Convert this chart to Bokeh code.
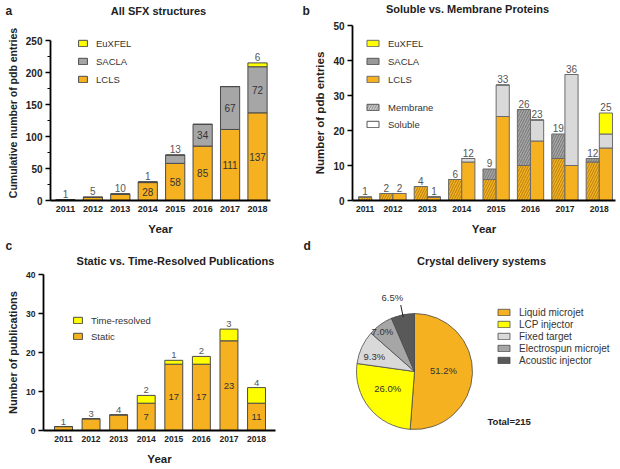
import numpy as np
from bokeh.plotting import figure
from bokeh.models import ColumnDataSource, FixedTicker, Legend, LegendItem, Label, Range1d
from bokeh.layouts import column, row
from bokeh.embed import file_html
from bokeh.resources import INLINE
from bokeh.core.properties import value

# ---------------- data ----------------
YEARS = [2011, 2012, 2013, 2014, 2015, 2016, 2017, 2018]

# (a) cumulative pdb entries
A_LCLS = [1, 5, 10, 28, 58, 85, 111, 137]
A_SACLA = [0, 0, 0, 1, 13, 34, 67, 72]
A_EUXFEL = [0, 0, 0, 0, 0, 0, 0, 6]

# (b) soluble vs membrane proteins
B_MEM_LCLS = [1, 2, 4, 6, 6, 10, 12, 11]
B_MEM_SACLA = [0, 0, 0, 0, 3, 16, 7, 1]
B_SOL_LCLS = [0, 2, 1, 11, 24, 17, 10, 15]
B_SOL_SACLA = [0, 0, 0, 1, 9, 6, 26, 4]
B_SOL_EUXFEL = [0, 0, 0, 0, 0, 0, 0, 6]

# (c) static vs time-resolved publications
C_STATIC = [1, 3, 4, 7, 17, 17, 23, 7]
C_TIMERES = [0, 0, 0, 2, 1, 2, 3, 4]
C_STATIC_LABELS = ["1", "3", "4", "7", "17", "17", "23", "11"]

# (d) crystal delivery systems
D_SYSTEMS = ["Liquid microjet", "LCP injector", "Fixed target",
             "Electrospun microjet", "Acoustic injector"]
D_PCT = [51.2, 26.0, 9.3, 7.0, 6.5]
D_TOTAL = 215

# ---------------- style ----------------
FONT = "Liberation Sans"
ORANGE = "#F5B120"
YELLOW = "#FFFF00"
GRAY = "#A6A6A6"
LIGHT = "#D9D9D9"
DARK = "#595959"
EDGE = "#4a4a4a"
TXT = "#222222"

W = 620
TOP_H, ROW1_H, MID_H, ROW2_H = 18, 220, 30, 200


def base_fig(width, height, xr, yr, left, right, top, bottom):
    p = figure(width=width, height=height, x_range=xr, y_range=yr,
               output_backend="svg", toolbar_location=None,
               min_border_left=left, min_border_right=right,
               min_border_top=top, min_border_bottom=bottom)
    p.outline_line_color = None
    p.xgrid.visible = False
    p.ygrid.visible = False
    return p


def style_axes(p, xticks, xlabels, yticks, yminor, ylabel, xfs, yfs, ylfs):
    xa = p.xaxis[0]
    ya = p.yaxis[0]
    xa.ticker = FixedTicker(ticks=xticks)
    if xlabels is not None:
        xa.major_label_overrides = {t: l for t, l in zip(xticks, xlabels)}
    xa.axis_line_width = 1.8
    xa.axis_line_color = "black"
    xa.major_tick_line_color = None
    xa.minor_tick_line_color = None
    xa.major_tick_out = 0
    xa.major_tick_in = 0
    xa.minor_tick_out = 0
    xa.minor_tick_in = 0
    xa.major_label_standoff = 5
    xa.major_label_text_font = FONT
    xa.major_label_text_font_style = "bold"
    xa.major_label_text_font_size = xfs
    xa.major_label_text_color = TXT
    xa.axis_label = "Year"
    xa.axis_label_text_font = FONT
    xa.axis_label_text_font_style = "bold"
    xa.axis_label_text_font_size = "11.5px"
    xa.axis_label_text_color = TXT
    xa.axis_label_standoff = 8

    ya.ticker = FixedTicker(ticks=yticks, minor_ticks=yminor)
    ya.axis_line_width = 1.8
    ya.axis_line_color = "black"
    ya.major_tick_out = 5
    ya.major_tick_in = 0
    ya.major_tick_line_width = 1.5
    ya.minor_tick_out = 3
    ya.minor_tick_in = 0
    ya.minor_tick_line_width = 1.2
    ya.major_label_standoff = 3
    ya.major_label_text_font = FONT
    ya.major_label_text_font_style = "bold"
    ya.major_label_text_font_size = yfs
    ya.major_label_text_color = TXT
    ya.axis_label = ylabel
    ya.axis_label_text_font = FONT
    ya.axis_label_text_font_style = "bold"
    ya.axis_label_text_font_size = ylfs
    ya.axis_label_text_color = TXT
    ya.axis_label_standoff = 4


def add_legend(p, items, vx, vy, gw, gh, spacing, size="9.5px"):
    lg = Legend(items=items, location=(vx, vy), orientation="vertical",
                border_line_color=None, background_fill_alpha=0,
                padding=0, margin=0, spacing=spacing,
                glyph_width=gw, glyph_height=gh, label_standoff=8,
                label_text_font=FONT, label_text_font_size=size,
                label_text_color="#333333", label_height=10)
    p.add_layout(lg)


def value_texts(p, xs, ys, texts, baseline, color, size="9.5px"):
    if not xs:
        return
    src = ColumnDataSource(dict(x=xs, y=ys, t=texts))
    p.text(x="x", y="y", text="t", source=src, text_font=value(FONT),
           text_font_size=size, text_align="center", text_baseline=baseline,
           text_color=color, y_offset=-2 if baseline == "bottom" else 0)


def header(height, entries):
    """entries: (text, x, y_from_top, size, align)"""
    h = figure(width=W, height=height, x_range=Range1d(0, W), y_range=Range1d(0, height),
               output_backend="svg", toolbar_location=None,
               x_axis_location=None, y_axis_location=None, min_border=0)
    h.outline_line_color = None
    h.xgrid.visible = False
    h.ygrid.visible = False
    for text, x, yt, size, align in entries:
        h.text(x=[x], y=[height - yt], text=[text], text_font=value(FONT),
               text_font_size=size, text_font_style="bold", text_align=align,
               text_baseline="middle", text_color=TXT)
    return h


# ---------------- headers ----------------
head_top = header(TOP_H, [
    ("a", 5, 10, "12px", "left"),
    ("All SFX structures", 158, 10, "11px", "center"),
    ("b", 302, 10, "12px", "left"),
    ("Soluble vs. Membrane Proteins", 467, 8, "11px", "center"),
])
head_mid = header(MID_H, [
    ("c", 5, 7, "12px", "left"),
    ("Static vs. Time-Resolved Publications", 175, 22, "11px", "center"),
    ("d", 303, 7, "12px", "left"),
    ("Crystal delivery systems", 481, 22, "11px", "center"),
])

# shared borders per row (frames are aligned within a row)
R1_TOP, R1_BOT = 7, 38      # frame: abs y 25 .. 200
R2_TOP, R2_BOT = 6, 38      # frame: abs y 274 .. 430

# ================= (a) =================
A_YMAX = 250 * 175 / 160
pa = base_fig(300, ROW1_H, Range1d(2010.455, 2018.473), Range1d(0, A_YMAX), 50, 30, R1_TOP, R1_BOT)
src_a = ColumnDataSource(dict(x=YEARS, lcls=A_LCLS, sacla=A_SACLA, eu=A_EUXFEL))
ra = pa.vbar_stack(["lcls", "sacla", "eu"], x="x", width=0.7, source=src_a,
                   fill_color=[ORANGE, GRAY, YELLOW], line_color=EDGE, line_width=1)
style_axes(pa, YEARS, None, list(range(0, 251, 50)), list(range(25, 250, 50)),
           "Cumulative number of pdb entries", "9px", "10px", "10.5px")
pa.yaxis[0].bounds = (0, 250)
ins_x, ins_y, ins_t, ab_x, ab_y, ab_t = [], [], [], [], [], []
for i, yr in enumerate(YEARS):
    base = 0
    for ser in (A_LCLS, A_SACLA, A_EUXFEL):
        v = ser[i]
        if v >= 20:
            ins_x.append(yr); ins_y.append(base + v / 2); ins_t.append(str(v))
        elif v > 0:
            ab_x.append(yr); ab_y.append(base + v); ab_t.append(str(v))
        base += v
value_texts(pa, ins_x, ins_y, ins_t, "middle", "#333333", "10px")
value_texts(pa, ab_x, ab_y, ab_t, "bottom", "#555555", "10px")
add_legend(pa, [LegendItem(label="EuXFEL", renderers=[ra[2]]),
                LegendItem(label="SACLA", renderers=[ra[1]]),
                LegendItem(label="LCLS", renderers=[ra[0]])], 27, 115.5, 11, 8, 7)

# ================= (b) =================
B_GAP = 0.615
mem_tot = [a + b for a, b in zip(B_MEM_LCLS, B_MEM_SACLA)]
sol_tot = [a + b + c for a, b, c in zip(B_SOL_LCLS, B_SOL_SACLA, B_SOL_EUXFEL)]
pos = 0.0
mem_x, sol_x, centers, sol_idx = [], [], [], []
for i in range(len(YEARS)):
    if i:
        pos += B_GAP
    mem_x.append(pos + 0.5)
    if sol_tot[i] > 0:
        sol_x.append(pos + 1.5)
        sol_idx.append(i)
        centers.append(round(pos + 1.0, 4))
        pos += 2
    else:
        centers.append(round(pos + 0.5, 4))
        pos += 1

pb = base_fig(320, ROW1_H, Range1d(-0.46, pos + 0.23), Range1d(0, 50), 52, 5, R1_TOP, R1_BOT)
HATCH = dict(hatch_pattern="/", hatch_alpha=0.6, hatch_scale=5, hatch_weight=0.7)
src_bm = ColumnDataSource(dict(x=mem_x, lcls=B_MEM_LCLS, sacla=B_MEM_SACLA))
rbm = pb.vbar_stack(["lcls", "sacla"], x="x", width=1.0, source=src_bm,
                    fill_color=[ORANGE, GRAY], line_color="#6a6a6a", line_width=1,
                    hatch_color=["#5a3c00", "#333333"], **HATCH)
src_bs = ColumnDataSource(dict(x=sol_x,
                               lcls=[B_SOL_LCLS[i] for i in sol_idx],
                               sacla=[B_SOL_SACLA[i] for i in sol_idx],
                               eu=[B_SOL_EUXFEL[i] for i in sol_idx]))
rbs = pb.vbar_stack(["lcls", "sacla", "eu"], x="x", width=1.0, source=src_bs,
                    fill_color=[ORANGE, LIGHT, YELLOW], line_color="#6a6a6a", line_width=1)
style_axes(pb, centers, [str(y) for y in YEARS], list(range(0, 51, 10)), [],
           "Number of pdb entries", "8.5px", "10px", "11.5px")
lx = [mem_x[i] for i in range(len(YEARS)) if mem_tot[i] > 0] + sol_x
ly = [t for t in mem_tot if t > 0] + [sol_tot[i] for i in sol_idx]
value_texts(pb, lx, ly, [str(v) for v in ly], "bottom", "#555555", "10px")
NAN = [float("nan")]
leg_sa = pb.vbar(x=NAN, top=NAN, width=1, fill_color="#999999", line_color="#555555")
leg_me = pb.vbar(x=NAN, top=NAN, width=1, fill_color="#C8C8C8", line_color="#555555",
                 hatch_color="#444444", **HATCH)
leg_so = pb.vbar(x=NAN, top=NAN, width=1, fill_color="white", line_color="#555555")
add_legend(pb, [LegendItem(label="EuXFEL", renderers=[rbs[2]]),
                LegendItem(label="SACLA", renderers=[leg_sa]),
                LegendItem(label="LCLS", renderers=[rbs[0]])], 13, 115.5, 15, 8, 7)
add_legend(pb, [LegendItem(label="Membrane", renderers=[leg_me]),
                LegendItem(label="Soluble", renderers=[leg_so])], 13, 70.5, 15, 8, 6)

# ================= (c) =================
pc = base_fig(300, ROW2_H, Range1d(2010.275, 2018.688), Range1d(0, 40), 43, 25, R2_TOP, R2_BOT)
src_c = ColumnDataSource(dict(x=YEARS, st=C_STATIC, tr=C_TIMERES))
rc = pc.vbar_stack(["st", "tr"], x="x", width=0.65, source=src_c,
                   fill_color=[ORANGE, YELLOW], line_color=EDGE, line_width=1)
style_axes(pc, YEARS, None, list(range(0, 41, 10)), [],
           "Number of publications", "8.5px", "8.5px", "11px")
ci_x, ci_y, ci_t, ca_x, ca_y, ca_t = [], [], [], [], [], []
for i, yr in enumerate(YEARS):
    s, t = C_STATIC[i], C_TIMERES[i]
    if s >= 5:
        ci_x.append(yr); ci_y.append(s / 2); ci_t.append(C_STATIC_LABELS[i])
    else:
        ca_x.append(yr); ca_y.append(s); ca_t.append(C_STATIC_LABELS[i])
    if t > 0:
        ca_x.append(yr); ca_y.append(s + t); ca_t.append(str(t))
value_texts(pc, ci_x, ci_y, ci_t, "middle", "#333333", "9.5px")
value_texts(pc, ca_x, ca_y, ca_t, "bottom", "#555555", "9.5px")
add_legend(pc, [LegendItem(label="Time-resolved", renderers=[rc[1]]),
                LegendItem(label="Static", renderers=[rc[0]])], 29, 88.5, 11, 8, 5)

# ================= (d) =================
R = 58
CX, CY = 414, 371          # pie centre (page pixels)
FR_TOP, FR_BOT = 274, 430  # frame extent shared with (c)
pd_ = figure(width=320, height=ROW2_H, x_range=Range1d(300 - CX, 620 - CX),
             y_range=Range1d(CY - FR_BOT, CY - FR_TOP),
             output_backend="svg", toolbar_location=None,
             x_axis_location=None, y_axis_location=None,
             min_border_left=0, min_border_right=0,
             min_border_top=R2_TOP, min_border_bottom=R2_BOT)
pd_.outline_line_color = None
pd_.xgrid.visible = False
pd_.ygrid.visible = False
frac = np.array(D_PCT) / 100.0
cum = np.concatenate([[0.0], np.cumsum(frac)])
cum = cum / cum[-1]
starts = np.pi / 2 - 2 * np.pi * cum[:-1]
ends = np.pi / 2 - 2 * np.pi * cum[1:]
PIE_COLORS = [ORANGE, YELLOW, LIGHT, GRAY, DARK]
src_d = ColumnDataSource(dict(start=starts, end=ends, color=PIE_COLORS, name=D_SYSTEMS))
rw = pd_.wedge(x=0, y=0, radius=R, start_angle="start", end_angle="end",
               direction="clock", fill_color="color", line_color="#4a4a4a",
               line_width=0.8, source=src_d)
mids = (starts + ends) / 2
LABEL_R = [0.5, 0.55, 0.74, 0.88, 1.33]
LABEL_DANG = [4, -6, 4, 3, 5]
ang = mids + np.radians(LABEL_DANG)
lxs = [R * r * np.cos(a) for r, a in zip(LABEL_R, ang)]
lys = [R * r * np.sin(a) for r, a in zip(LABEL_R, ang)]
pd_.text(x=lxs, y=lys, text=[f"{v:.1f}%" for v in D_PCT], text_font=value(FONT),
         text_font_size="9.5px", text_align="center", text_baseline="middle",
         text_color="#333333")
out = [i for i, r in enumerate(LABEL_R) if r > 1]
pd_.segment(x0=[R * 0.96 * np.cos(mids[i]) for i in out],
            y0=[R * 0.96 * np.sin(mids[i]) for i in out],
            x1=[R * 1.17 * np.cos(mids[i]) for i in out],
            y1=[R * 1.17 * np.sin(mids[i]) for i in out],
            line_color="#222222", line_width=1)
add_legend(pd_, [LegendItem(label=n, renderers=[rw], index=i) for i, n in enumerate(D_SYSTEMS)],
           196, 64.5, 15, 8, 1, size="10px")
pd_.add_layout(Label(x=487 - CX, y=CY - 421, text=f"Total={D_TOTAL}", text_font=FONT,
                     text_font_size="9.5px", text_font_style="bold",
                     text_baseline="middle", text_color=TXT))

layout = column(head_top, row(pa, pb), head_mid, row(pc, pd_))
open("out.html", "w").write(file_html(layout, INLINE))
